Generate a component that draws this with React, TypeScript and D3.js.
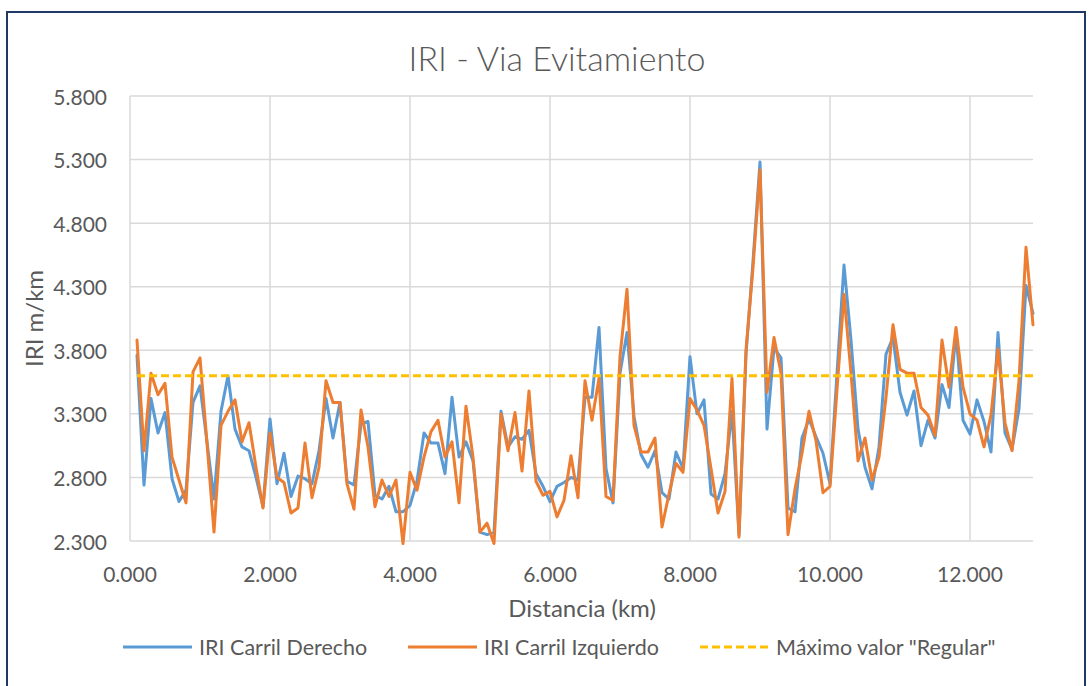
import React from 'react';
import * as d3 from 'd3';

// distance in km, one reading every 100 m
const distanciaKm = d3.range(1, 130).map((i) => i / 10);

const iriDerecho = [
  3.76, 2.74, 3.42, 3.15, 3.31, 2.79, 2.61, 2.7, 3.39, 3.52,
  3.08, 2.63, 3.32, 3.6, 3.18, 3.04, 3.01, 2.8, 2.57, 3.26,
  2.75, 2.99, 2.65, 2.81, 2.79, 2.75, 3.01, 3.42, 3.11, 3.39,
  2.77, 2.74, 3.22, 3.24, 2.66, 2.63, 2.73, 2.53, 2.53, 2.58,
  2.77, 3.15, 3.07, 3.07, 2.83, 3.43, 2.96, 3.08, 2.93, 2.37,
  2.35, 2.37, 3.32, 3.04, 3.12, 3.1, 3.17, 2.83, 2.73, 2.61,
  2.73, 2.76, 2.8, 2.78, 3.43, 3.43, 3.98, 2.87, 2.6, 3.62,
  3.94, 3.28, 2.98, 2.88, 3.01, 2.68, 2.63, 3.0, 2.87, 3.75,
  3.3, 3.41, 2.67, 2.63, 2.83, 3.32, 2.35, 3.77, 4.5, 5.28,
  3.18, 3.82, 3.74, 2.56, 2.53, 3.11, 3.26, 3.12, 2.99, 2.75,
  3.62, 4.47, 3.88, 3.18, 2.88, 2.71, 3.04, 3.77, 3.9, 3.47,
  3.29, 3.48, 3.05, 3.25, 3.11, 3.53, 3.35, 3.94, 3.25, 3.14,
  3.41, 3.24, 3.0, 3.94, 3.15, 3.02, 3.34, 4.31, 4.09,
];

const iriIzquierdo = [
  3.88, 3.01, 3.62, 3.45, 3.54, 2.96, 2.78, 2.6, 3.63, 3.74,
  3.07, 2.37, 3.21, 3.32, 3.41, 3.08, 3.23, 2.88, 2.56, 3.15,
  2.8, 2.76, 2.52, 2.56, 3.07, 2.64, 2.88, 3.56, 3.39, 3.39,
  2.75, 2.55, 3.33, 3.04, 2.57, 2.78, 2.65, 2.78, 2.28, 2.84,
  2.7, 2.96, 3.16, 3.25, 2.96, 3.08, 2.6, 3.36, 2.96, 2.37,
  2.44, 2.28, 3.3, 3.01, 3.31, 2.85, 3.48, 2.77, 2.66, 2.69,
  2.49, 2.62, 2.97, 2.64, 3.56, 3.25, 3.58, 2.65, 2.62, 3.75,
  4.28, 3.21, 3.0, 3.0, 3.11, 2.41, 2.67, 2.91, 2.84, 3.42,
  3.33, 3.21, 2.87, 2.52, 2.69, 3.58, 2.33, 3.8, 4.45, 5.22,
  3.47, 3.9, 3.62, 2.35, 2.71, 2.99, 3.32, 3.09, 2.68, 2.73,
  3.49, 4.24, 3.62, 2.93, 3.11, 2.78, 2.96, 3.43, 4.0, 3.65,
  3.62, 3.62, 3.35, 3.29, 3.13, 3.88, 3.51, 3.98, 3.51, 3.3,
  3.25, 3.04, 3.29, 3.81, 3.23, 3.01, 3.56, 4.61, 4.0,
];

const maximoRegular = 3.6;

const xTicks = [0, 2, 4, 6, 8, 10, 12];
const yTicks = [2.3, 2.8, 3.3, 3.8, 4.3, 4.8, 5.3, 5.8];

const series = [
  { name: 'IRI Carril Derecho', values: iriDerecho, color: '#5B9BD5' },
  { name: 'IRI Carril Izquierdo', values: iriIzquierdo, color: '#ED7D31' },
];

const W = 1092;
const H = 686;
const FONT = 'Lato, "Open Sans", sans-serif';
const TXT = '#595959';

export default function App() {
  const x = d3.scaleLinear().domain([0, 12.9]).range([130, 1033]);
  const y = d3.scaleLinear().domain([2.3, 5.8]).range([541, 96]);
  const fmt = d3.format('.3f');

  const line = d3
    .line<number>()
    .x((_, i) => x(distanciaKm[i]))
    .y((d) => y(d));

  const legend = [
    { label: 'IRI Carril Derecho', color: '#5B9BD5', dash: undefined, x0: 123 },
    { label: 'IRI Carril Izquierdo', color: '#ED7D31', dash: undefined, x0: 408 },
    { label: 'Máximo valor "Regular"', color: '#FFC000', dash: '8,4', x0: 700 },
  ];

  return (
    <svg width={W} height={H} style={{ position: 'absolute', left: 0, top: 0, background: '#fff' }}>
      <rect x={0} y={0} width={W} height={H} fill="#fff" />
      <rect x={7} y={12} width={1078} height={H} fill="none" stroke="#203864" strokeWidth={2} />

      <text x={557} y={57} textAnchor="middle" dominantBaseline="central" fontFamily={FONT} fontSize={34} fill={TXT} fontWeight={300}>
        IRI - Via Evitamiento
      </text>

      {/* grid */}
      {yTicks.map((t) => (
        <line key={'gy' + t} x1={x(0)} x2={x(12.9)} y1={y(t)} y2={y(t)} stroke="#D9D9D9" strokeWidth={1.5} />
      ))}
      {xTicks.map((t) => (
        <line key={'gx' + t} x1={x(t)} x2={x(t)} y1={y(5.8)} y2={y(2.3)} stroke="#D9D9D9" strokeWidth={1.5} />
      ))}

      {/* tick labels */}
      {yTicks.map((t) => (
        <text key={'ty' + t} x={107} y={y(t)} textAnchor="end" dominantBaseline="central" fontFamily={FONT} fontSize={21} fill={TXT}>
          {fmt(t)}
        </text>
      ))}
      {xTicks.map((t) => (
        <text key={'tx' + t} x={x(t)} y={573} textAnchor="middle" dominantBaseline="central" fontFamily={FONT} fontSize={21} fill={TXT}>
          {fmt(t)}
        </text>
      ))}

      <text x={582} y={607} textAnchor="middle" dominantBaseline="central" fontFamily={FONT} fontSize={24} fill={TXT}>
        Distancia (km)
      </text>
      <text transform={`translate(33,${(y(2.3) + y(5.8)) / 2}) rotate(-90)`} textAnchor="middle" dominantBaseline="central" fontFamily={FONT} fontSize={24} fill={TXT}>
        IRI m/km
      </text>

      {/* series */}
      {series.map((s) => (
        <path key={s.name} d={line(s.values) || ''} fill="none" stroke={s.color} strokeWidth={3} strokeLinejoin="round" strokeLinecap="round" />
      ))}
      <line x1={x(distanciaKm[0])} x2={x(distanciaKm[distanciaKm.length - 1])} y1={y(maximoRegular)} y2={y(maximoRegular)} stroke="#FFC000" strokeWidth={3} strokeDasharray="8,4" />

      {/* legend */}
      {legend.map((l) => (
        <g key={l.label}>
          <line x1={l.x0} x2={l.x0 + 69} y1={647} y2={647} stroke={l.color} strokeWidth={3} strokeDasharray={l.dash} />
          <text x={l.x0 + 76} y={647} dominantBaseline="central" fontFamily={FONT} fontSize={21.5} fill={TXT}>
            {l.label}
          </text>
        </g>
      ))}
    </svg>
  );
}
